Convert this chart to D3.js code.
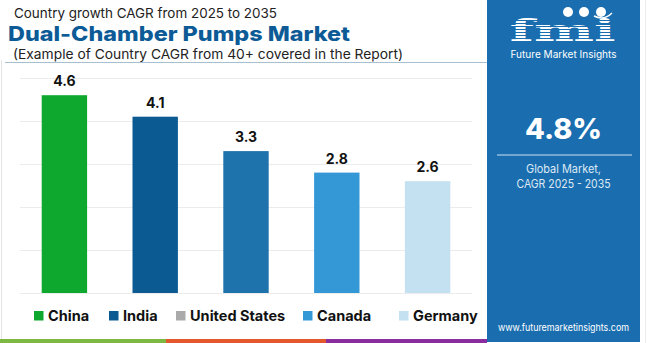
<!DOCTYPE html>
<html>
<head>
<meta charset="utf-8">
<script src="https://cdn.jsdelivr.net/npm/d3@7"></script>
<style>
  html, body { margin:0; padding:0; background:#fff; }
  svg { display:block; font-family:'Inter','Open Sans',sans-serif; }
</style>
</head>
<body>
<svg id="chart" width="650" height="343"></svg>
<script>
// chart data
const countries = ["China", "India", "United States", "Canada", "Germany"];
const cagr = [4.6, 4.1, 3.3, 2.8, 2.6];
const barColors = ["#0fa82f", "#0b5a91", "#1e73ad", "#3497d6", "#c3e1f1"];
const legendColors = ["#0fa82f", "#0b5a91", "#aaaaaa", "#3497d6", "#c3e1f1"];
const yTicks = [0, 1, 2, 3, 4, 5];
const globalCagr = "4.8%";

const svg = d3.select('#chart');

// page frame
svg.append('rect').attr('x', 1).attr('y', 60).attr('width', 1).attr('height', 280).attr('fill', '#e3e3e3');
svg.append('rect').attr('x', 645).attr('y', 0).attr('width', 1).attr('height', 343).attr('fill', '#ececec');

// titles
svg.append('text').attr('x', 14).attr('y', 17.5).attr('font-size', 13.5).attr('fill', '#222')
  .attr('textLength', 263).attr('lengthAdjust', 'spacingAndGlyphs')
  .text('Country growth CAGR from 2025 to 2035');
svg.append('text').attr('x', 8).attr('y', 40.5).attr('font-size', 20).attr('font-weight', 800)
  .attr('fill', '#0d5b96').attr('textLength', 342).attr('lengthAdjust', 'spacingAndGlyphs')
  .text('Dual-Chamber Pumps Market');
svg.append('text').attr('x', 13).attr('y', 59).attr('font-size', 13.5).attr('fill', '#222')
  .attr('textLength', 390).attr('lengthAdjust', 'spacingAndGlyphs')
  .text('(Example of Country CAGR from 40+ covered in the Report)');
svg.append('line').attr('x1', 5).attr('x2', 487).attr('y1', 62.5).attr('y2', 62.5)
  .attr('stroke', '#a8bfd2').attr('stroke-width', 1);

// scales
const x = d3.scaleBand().domain(countries).range([19, 473]).paddingInner(0.5).paddingOuter(0.25);
const y = d3.scaleLinear().domain([0, 5]).range([293, 78]);

// grid
svg.append('g').selectAll('line').data(yTicks).join('line')
  .attr('x1', 20).attr('x2', 472)
  .attr('y1', d => y(d) + 0.5).attr('y2', d => y(d) + 0.5)
  .attr('stroke', '#ececec').attr('stroke-width', 1);

// bars
svg.append('g').selectAll('rect').data(cagr).join('rect')
  .attr('x', (d, i) => x(countries[i]))
  .attr('y', d => y(d))
  .attr('width', x.bandwidth())
  .attr('height', d => y(0) - y(d))
  .attr('fill', (d, i) => barColors[i]);

svg.append('g').selectAll('text').data(cagr).join('text')
  .attr('x', (d, i) => x(countries[i]) + x.bandwidth() / 2)
  .attr('y', d => y(d) - 9)
  .attr('text-anchor', 'middle')
  .attr('font-size', 14).attr('font-weight', 700).attr('fill', '#111')
  .text(d => d.toFixed(1));

// legend
const legendX = [34, 109, 176, 303, 399];
const lg = svg.append('g').selectAll('g').data(countries).join('g')
  .attr('transform', (d, i) => `translate(${legendX[i]},316)`);
lg.append('rect').attr('x', 0).attr('y', -5).attr('width', 9.5).attr('height', 9.5)
  .attr('fill', (d, i) => legendColors[i]);
lg.append('text').attr('x', 14).attr('y', 5).attr('font-size', 14.5).attr('font-weight', 700)
  .attr('fill', '#111').text(d => d);

// bottom stripe
const stripe = [[0, 166, '#7db843'], [166, 326, '#e3582c'], [326, 487, '#8a2d9e']];
svg.append('g').selectAll('rect').data(stripe).join('rect')
  .attr('x', d => d[0]).attr('width', d => d[1] - d[0])
  .attr('y', 339).attr('height', 4).attr('fill', d => d[2]);

// right panel
const px = 487, pw = 153, cx = px + pw / 2;
svg.append('rect').attr('x', px).attr('y', 0).attr('width', pw).attr('height', 342).attr('fill', '#1a6eb0');

// logo: striped fmi
const defs = svg.append('defs');
const pat = defs.append('pattern').attr('id', 'stripes').attr('patternUnits', 'userSpaceOnUse')
  .attr('width', 4).attr('height', 3);
pat.append('rect').attr('width', 4).attr('height', 2).attr('fill', '#fff');
svg.append('text').attr('x', cx - 1).attr('y', 41).attr('text-anchor', 'middle')
  .attr('font-family', 'DejaVu Serif, serif').attr('font-weight', 700).attr('font-size', 30)
  .attr('fill', 'url(#stripes)').attr('textLength', 106).attr('lengthAdjust', 'spacingAndGlyphs')
  .text('fmi');
[[568, 12], [584, 12], [601, 12]].forEach(p => {
  svg.append('circle').attr('cx', p[0]).attr('cy', p[1]).attr('r', 5)
    .attr('fill', '#fff');
});
svg.append('path').attr('d', 'M594 16 Q604 21 612 13').attr('fill', 'none').attr('stroke', '#fff').attr('stroke-width', 1.5);
svg.append('text').attr('x', cx).attr('y', 58).attr('text-anchor', 'middle').attr('font-size', 10)
  .attr('fill', '#fff').attr('textLength', 106).attr('lengthAdjust', 'spacingAndGlyphs')
  .text('Future Market Insights');

svg.append('text').attr('x', cx).attr('y', 139).attr('text-anchor', 'middle').attr('font-size', 28)
  .attr('font-weight', 800).attr('fill', '#fff').attr('textLength', 77).attr('lengthAdjust', 'spacingAndGlyphs')
  .text(globalCagr);
svg.append('line').attr('x1', px + 10).attr('x2', px + pw - 8).attr('y1', 155).attr('y2', 155)
  .attr('stroke', '#cfe2f2').attr('stroke-width', 1.2);
svg.append('text').attr('x', cx).attr('y', 173).attr('text-anchor', 'middle').attr('font-size', 11.5)
  .attr('fill', '#dde9f4').attr('textLength', 75).attr('lengthAdjust', 'spacingAndGlyphs')
  .text('Global Market,');
svg.append('text').attr('x', cx).attr('y', 188).attr('text-anchor', 'middle').attr('font-size', 11.5)
  .attr('fill', '#dde9f4').attr('textLength', 94).attr('lengthAdjust', 'spacingAndGlyphs')
  .text('CAGR 2025 - 2035');
svg.append('text').attr('x', cx).attr('y', 331).attr('text-anchor', 'middle').attr('font-size', 9.5)
  .attr('fill', '#fff').attr('textLength', 131).attr('lengthAdjust', 'spacingAndGlyphs')
  .text('www.futuremarketinsights.com');
</script>
</body>
</html>
